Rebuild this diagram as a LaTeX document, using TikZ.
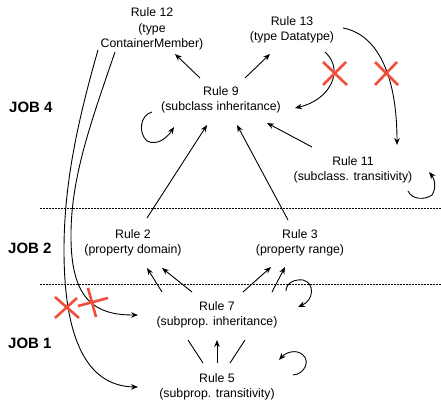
\documentclass[tikz,border=0pt]{standalone}
\usepackage{fontspec}
\setmainfont{Liberation Sans}
\usetikzlibrary{arrows.meta,calc}
\definecolor{crossred}{RGB}{240,78,58}
\tikzset{
  rule/.style={align=center, inner sep=0pt, font=\fontsize{12.3}{15.5}\selectfont},
  joblabel/.style={anchor=west, inner sep=0pt, font=\fontsize{15}{18}\selectfont\bfseries},
  link/.style={line width=0.9pt, -{Stealth[length=7pt,width=5.5pt]}},
  plainlink/.style={line width=0.9pt},
  divider/.style={line width=0.8pt, dash pattern=on 2pt off 1pt},
  veto/.style={line width=2.6pt, crossred},
}
\begin{document}
\begin{tikzpicture}[x=1pt,y=-1pt]
\useasboundingbox (0,0) rectangle (441,401);

% job separators
\coordinate (d1a) at (40,208);  \coordinate (d1b) at (441,208);
\coordinate (d2a) at (40,284);  \coordinate (d2b) at (441,284);
\draw[divider] (d1a) -- (d1b);
\draw[divider] (d2a) -- (d2b);

% job labels
\node[joblabel] (job4) at (9,107) {JOB 4};
\node[joblabel] (job2) at (8,248) {JOB 2};
\node[joblabel] (job1) at (8,343) {JOB 1};

% rules
\node[rule] (r12) at (152,29) {Rule 12\\(type\\ContainerMember)};
\node[rule] (r13) at (292,30) {Rule 13\\(type Datatype)};
\node[rule] (r9)  at (221,100) {Rule 9\\(subclass inheritance)};
\node[rule] (r11) at (353,170) {Rule 11\\(subclass. transitivity)};
\node[rule] (r2)  at (133,243) {Rule 2\\(property domain)};
\node[rule] (r3)  at (300,243) {Rule 3\\(property range)};
\node[rule] (r7)  at (217,315) {Rule 7\\(subprop. inheritance)};
\node[rule] (r5)  at (217,387) {Rule 5\\(subprop. transitivity)};

% job 4
\draw[link] ($(r9)+(-21,-22)$) -- ($(r12)+(23,25)$);
\draw[link] ($(r9)+(24,-22)$) -- ($(r13)+(-22,24)$);
\draw[link] ($(r13)+(33,22)$) .. controls +(20,18) and +(35,-8) .. ($(r9)+(74,8)$);
\draw[link] ($(r13)+(51,-2)$) .. controls +(37,7) and +(0,-65) .. ($(r11)+(44,-25)$);
\draw[link] ($(r11)+(-41,-23)$) -- ($(r9)+(46,23)$);
\draw[link] ($(r9)+(-69,12)$) .. controls +(-12,3) and +(-9,-8) .. ($(r9)+(-74,41)$)
            .. controls +(10,5) and +(-7,11) .. ($(r9)+(-47,27)$);
\draw[link] ($(r11)+(55,21)$) .. controls +(4,9) and +(-7,5) .. ($(r11)+(79,25)$)
            .. controls +(5,-8) and +(5,6) .. ($(r11)+(76,2)$);

% job 2 into job 4
\draw[link] ($(r2)+(14,-25)$) -- ($(r9)+(-14,25)$);
\draw[link] ($(r3)+(-12,-23)$) -- ($(r9)+(16,25)$);

% job 1 into job 2
\draw[link] ($(r7)+(-55,-23)$) -- ($(r2)+(14,25)$);
\draw[link] ($(r7)+(-25,-23)$) -- ($(r2)+(29,25)$);
\draw[link] ($(r7)+(26,-23)$) -- ($(r3)+(-29,24)$);
\draw[link] ($(r7)+(55,-23)$) -- ($(r3)+(-15,24)$);
\draw[link] ($(r7)+(69,-24)$) .. controls +(0,-9) and +(-7,-1) .. ($(r7)+(86,-35)$)
            .. controls +(12,3) and +(16,-7) .. ($(r7)+(81,-8)$);

% job 1
\draw[plainlink] ($(r5)+(-14,-24)$) -- ($(r7)+(-29,25)$);
\draw[link] ($(r5)+(0,-24)$) -- ($(r7)+(0,25)$);
\draw[plainlink] ($(r5)+(13,-24)$) -- ($(r7)+(28,25)$);
\draw[link] ($(r5)+(76,-12)$) .. controls +(12,-1) and +(7,6) .. ($(r5)+(86,-32)$)
            .. controls +(-6,-6) and +(7,-8) .. ($(r5)+(62,-27)$);

% long connectors from rule 12
\coordinate (bendA) at (71,240);
\coordinate (bendB) at (64,250);
\draw[link] ($(r12)+(-37,23)$) .. controls (90,125) and (70,180) .. (bendA)
            .. controls (72,302) and (97,315) .. ($(r7)+(-79,0)$);
\draw[link] ($(r12)+(-54,21)$) .. controls (75,130) and (64,190) .. (bendB)
            .. controls (64,335) and (85,386) .. ($(r5)+(-79,0)$);

% vetoed derivations
\draw[veto] (323,62) -- (347,85) (346,62) -- (323,85);
\draw[veto] (375,62) -- (398,85) (397,62) -- (375,85);
\draw[veto] (55,297) -- (79,318) (55,318) -- (77,298);
\draw[veto] (78,306) -- (108,298) (88,288) -- (96,317);
\end{tikzpicture}
\end{document}
